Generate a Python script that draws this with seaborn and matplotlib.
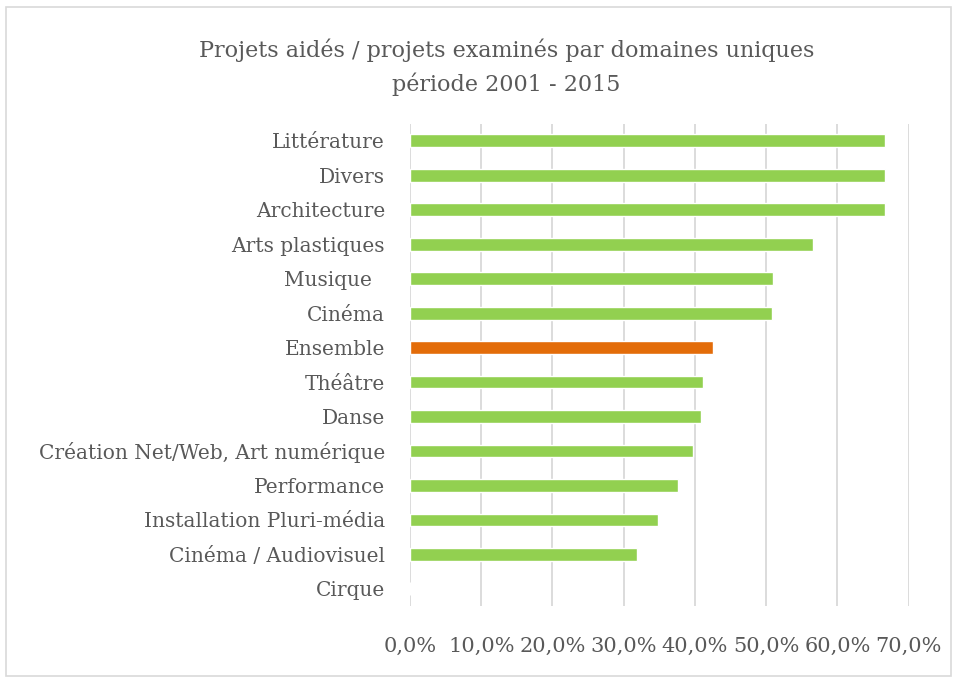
import matplotlib
matplotlib.use("Agg")
import matplotlib.pyplot as plt
import matplotlib.patches as mpatches
from matplotlib.ticker import FuncFormatter, MultipleLocator
import seaborn as sns
import pandas as pd

domaines = ["Littérature", "Divers", "Architecture", "Arts plastiques", "Musique  ",
            "Cinéma", "Ensemble", "Théâtre", "Danse", "Création Net/Web, Art numérique",
            "Performance", "Installation Pluri-média", "Cinéma / Audiovisuel", "Cirque"]
taux = [0.667, 0.667, 0.667, 0.566, 0.509, 0.508, 0.425, 0.411, 0.409, 0.397,
        0.376, 0.348, 0.319, 0.0]
groupe = ["domaine"] * 6 + ["ensemble"] + ["domaine"] * 7

df = pd.DataFrame({"domaine": domaines, "taux": taux, "groupe": groupe})

sns.set_theme(style="white")
plt.rcParams["font.family"] = ["DejaVu Serif"]

fig = plt.figure(figsize=(9.57, 6.8), dpi=100)
ax = fig.add_axes([0.4284, 0.1088, 0.5210, 0.7094])

sns.barplot(data=df, y="domaine", x="taux", hue="groupe", orient="h",
            palette={"domaine": "#92D050", "ensemble": "#E36C09"},
            width=0.37, dodge=False, legend=False, ax=ax, saturation=1)

ax.set_xlim(0, 0.7)
ax.xaxis.set_major_locator(MultipleLocator(0.1))
ax.xaxis.set_major_formatter(FuncFormatter(lambda v, p: f"{v*100:.1f}%".replace(".", ",")))
ax.grid(axis="x", color="#D9D9D9", linewidth=1.3)
ax.set_axisbelow(True)
for s in ax.spines.values():
    s.set_visible(False)
ax.set_xlabel("")
ax.set_ylabel("")
ax.tick_params(axis="y", length=0, pad=18, labelsize=14.5, labelcolor="#595959")
ax.tick_params(axis="x", length=0, pad=22, labelsize=15, labelcolor="#595959")

fig.text(0.529, 0.901, "Projets aidés / projets examinés par domaines uniques\npériode 2001 - 2015",
         ha="center", va="center", fontsize=16, color="#595959", linespacing=1.6)

fig.patches.append(mpatches.Rectangle((0.006, 0.006), 0.988, 0.983, transform=fig.transFigure,
                                      fill=False, edgecolor="#D9D9D9", linewidth=1.2))

fig.savefig("out.png", dpi=100)
